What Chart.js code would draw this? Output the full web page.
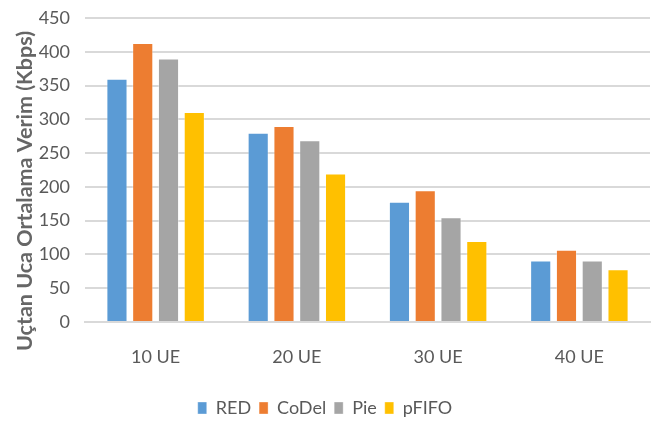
<!DOCTYPE html>
<html>
<head>
<meta charset="utf-8">
<script src="https://cdn.jsdelivr.net/npm/chart.js@4/dist/chart.umd.min.js"></script>
<style>
  html,body{margin:0;padding:0;background:#fff;}
  #wrap{width:656px;height:421px;position:relative;}
</style>
</head>
<body>
<div id="wrap"><canvas id="chart" width="656" height="421"></canvas></div>
<script>
// ===================== Daten =====================
const categories = ["10 UE","20 UE","30 UE","40 UE"];
const redVals   = [360, 280, 178, 91];
const codelVals = [413, 290, 195, 107];
const pieVals   = [390, 269, 155, 91];
const pfifoVals = [311, 220, 120, 78];
const yTicks = [0,50,100,150,200,250,300,350,400,450];
const yTitle = "Uçtan Uca Ortalama Verim (Kbps)";

const textGray = "#595959";
const FONT = "Lato";

// y-Achsentitel (wie im Original leicht nach unten versetzt)
const yTitlePlugin = {
    id: "yTitle",
    afterDraw(chart){
        const ctx = chart.ctx;
        ctx.save();
        ctx.translate(25, 191);
        ctx.rotate(-Math.PI/2);
        ctx.font = `bold 21.5px ${FONT}`;
        ctx.fillStyle = "#666666";
        ctx.textAlign = "center";
        ctx.textBaseline = "middle";
        ctx.fillText(yTitle, 0, 0);
        ctx.restore();
    }
};

// ===================== Chart =====================
const ds = (label, data, color) => ({
    label, data, backgroundColor: color, borderColor: "rgba(255,255,255,0.35)", borderWidth: 1,
    categoryPercentage: 0.73, barPercentage: 0.82
});

new Chart(document.getElementById("chart"), {
    type: "bar",
    data: {
        labels: categories,
        datasets: [
            ds("RED", redVals, "#5b9bd5"),
            ds("CoDel", codelVals, "#ed7d31"),
            ds("Pie", pieVals, "#a5a5a5"),
            ds("pFIFO", pfifoVals, "#ffc000")
        ]
    },
    plugins: [yTitlePlugin],
    options: {
        responsive: false,
        animation: false,
        layout: { padding: { top: 18, right: 6, left: 0, bottom: -6 } },
        plugins: {
            tooltip: { enabled: false },
            legend: {
                position: "bottom",
                labels: {
                    color: textGray,
                    font: { family: FONT, size: 18 },
                    boxWidth: 9, boxHeight: 12,
                    padding: 8
                }
            }
        },
        scales: {
            x: {
                grid: { display: false },
                border: { color: "#d9d9d9", width: 2 },
                ticks: { color: textGray, font: { family: FONT, size: 18 }, padding: 16 },
                afterFit: s => { s.height = 69; }
            },
            y: {
                min: 0, max: 450,
                afterBuildTicks: s => { s.ticks = yTicks.map(v => ({ value: v })); },
                grid: { color: "#d9d9d9", lineWidth: 2, drawTicks: false },
                border: { display: false },
                ticks: { color: textGray, font: { family: FONT, size: 18 }, padding: 15 },
                afterFit: s => { s.width = 85; s.paddingTop = 0; s.paddingBottom = 0; }
            }
        }
    }
});
</script>
</body>
</html>
